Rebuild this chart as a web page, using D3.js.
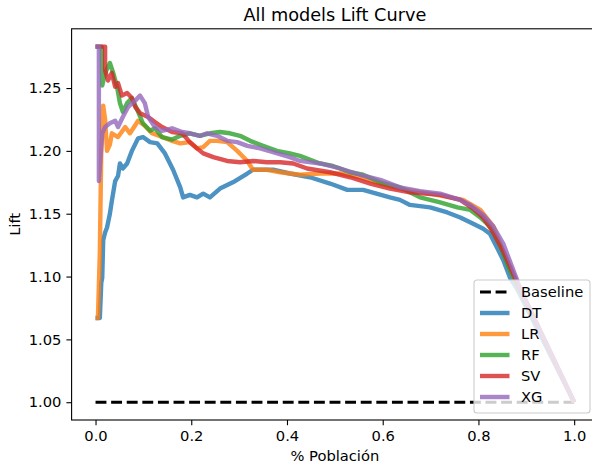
<!DOCTYPE html>
<html>
<head>
<meta charset="utf-8">
<script src="https://cdn.jsdelivr.net/npm/d3@7"></script>
<style>
  body { margin: 0; background: #fff; }
  text { font-family: "DejaVu Sans", sans-serif; fill: #000; }
</style>
</head>
<body>
<div id="chart"></div>
<script>
// lift curves, [fraction of population, lift]
const baseline = [[0, 1.0], [1, 1.0]]

const dt = [[0,1.067],[0.009,1.067],[0.012,1.095],[0.014,1.099],[0.016,1.129],[0.020,1.135],[0.024,1.139],
  [0.030,1.150],[0.034,1.160],[0.041,1.176],[0.047,1.180],[0.051,1.190],[0.057,1.186],[0.066,1.190],
  [0.076,1.200],[0.089,1.210],[0.099,1.211],[0.114,1.207],[0.129,1.206],[0.145,1.198],[0.162,1.185],
  [0.177,1.171],[0.183,1.163],[0.197,1.165],[0.212,1.163],[0.225,1.166],[0.239,1.163],[0.260,1.170],
  [0.287,1.175],[0.317,1.182],[0.329,1.185],[0.371,1.185],[0.406,1.182],[0.448,1.179],[0.490,1.174],
  [0.526,1.169],[0.559,1.169],[0.615,1.163],[0.636,1.161],[0.657,1.157],[0.699,1.155],[0.735,1.151],
  [0.762,1.147],[0.789,1.142],[0.810,1.138],[0.824,1.134],[0.839,1.123],[0.852,1.113],[0.866,1.099],
  [0.881,1.090],[1.0,1.0]]

const lr = [[0,1.067],[0.005,1.067],[0.009,1.120],[0.012,1.200],[0.016,1.236],[0.020,1.225],[0.024,1.200],
  [0.030,1.205],[0.034,1.214],[0.047,1.211],[0.062,1.219],[0.072,1.214],[0.089,1.224],[0.103,1.220],
  [0.118,1.214],[0.139,1.211],[0.160,1.208],[0.177,1.206],[0.197,1.207],[0.212,1.202],[0.225,1.203],
  [0.239,1.208],[0.254,1.208],[0.275,1.207],[0.296,1.200],[0.317,1.192],[0.329,1.185],[0.358,1.185],
  [0.386,1.183],[0.406,1.182],[0.427,1.181],[0.469,1.182],[0.511,1.182],[0.553,1.179],[0.595,1.174],
  [0.636,1.170],[0.699,1.166],[0.768,1.161],[0.804,1.153],[0.831,1.140],[0.852,1.120],[0.873,1.100],
  [0.887,1.090],[1.0,1.0]]

const rf = [[0,1.283],[0.013,1.283],[0.014,1.252],[0.020,1.262],[0.030,1.270],[0.037,1.262],[0.045,1.251],
  [0.051,1.238],[0.057,1.231],[0.066,1.238],[0.076,1.242],[0.089,1.231],[0.099,1.222],[0.114,1.216],
  [0.124,1.218],[0.139,1.211],[0.160,1.209],[0.177,1.212],[0.197,1.214],[0.218,1.212],[0.239,1.214],
  [0.260,1.215],[0.281,1.214],[0.302,1.212],[0.323,1.208],[0.350,1.204],[0.379,1.200],[0.406,1.198],
  [0.427,1.196],[0.469,1.190],[0.496,1.188],[0.532,1.183],[0.559,1.181],[0.595,1.175],[0.636,1.171],
  [0.678,1.163],[0.720,1.159],[0.756,1.155],[0.783,1.153],[0.804,1.147],[0.824,1.140],[0.845,1.125],
  [0.866,1.105],[0.887,1.090],[1.0,1.0]]

const sv = [[0,1.283],[0.020,1.283],[0.020,1.264],[0.026,1.256],[0.034,1.262],[0.041,1.251],[0.047,1.254],
  [0.055,1.244],[0.066,1.246],[0.076,1.242],[0.083,1.235],[0.093,1.230],[0.110,1.227],[0.124,1.223],
  [0.139,1.219],[0.160,1.215],[0.181,1.214],[0.197,1.207],[0.212,1.202],[0.225,1.198],[0.246,1.195],
  [0.275,1.192],[0.302,1.191],[0.329,1.192],[0.358,1.191],[0.386,1.191],[0.413,1.190],[0.442,1.186],
  [0.490,1.183],[0.532,1.179],[0.574,1.174],[0.615,1.170],[0.657,1.167],[0.720,1.165],[0.762,1.161],
  [0.789,1.154],[0.810,1.147],[0.831,1.135],[0.852,1.120],[0.873,1.102],[0.887,1.090],[1.0,1.0]]

const xg = [[0,1.283],[0.007,1.283],[0.007,1.176],[0.014,1.214],[0.020,1.219],[0.030,1.222],[0.041,1.224],
  [0.047,1.219],[0.057,1.227],[0.068,1.235],[0.083,1.240],[0.093,1.244],[0.103,1.238],[0.110,1.227],
  [0.124,1.219],[0.139,1.216],[0.160,1.218],[0.181,1.215],[0.197,1.214],[0.218,1.212],[0.233,1.214],
  [0.254,1.212],[0.275,1.208],[0.296,1.207],[0.317,1.204],[0.344,1.202],[0.371,1.199],[0.406,1.195],
  [0.427,1.192],[0.469,1.190],[0.511,1.186],[0.553,1.181],[0.595,1.177],[0.636,1.171],[0.678,1.168],
  [0.720,1.166],[0.762,1.161],[0.783,1.157],[0.797,1.153],[0.810,1.149],[0.831,1.140],[0.852,1.126],
  [0.873,1.105],[0.887,1.091],[1.0,1.0]]

const models = ["DT", "LR", "RF", "SV", "XG"]
const modelData = [dt, lr, rf, sv, xg]
const colors = ["#1f77b4", "#ff7f0e", "#2ca02c", "#d62728", "#9467bd"]
const xTicks = [0, 0.2, 0.4, 0.6, 0.8, 1.0]
const yTicks = [1.00, 1.05, 1.10, 1.15, 1.20, 1.25]

const W = 592, H = 467
const mLeft = 71.6, mRight = 598.1, mTop = 28.8, mBottom = 420

const x = d3.scaleLinear().domain([-0.05, 1.05]).range([mLeft, mRight])
const y = d3.scaleLinear().domain([0.98585, 1.29715]).range([mBottom, mTop])

const svg = d3.select("#chart").append("svg")
    .attr("width", W)
    .attr("height", H)

const line = d3.line().x(d => x(d[0])).y(d => y(d[1]))

svg.append("path")
    .datum(baseline)
    .attr("d", line)
    .attr("fill", "none")
    .attr("stroke", "#000")
    .attr("stroke-width", 2.9)
    .attr("stroke-dasharray", "10.9,4.7")

modelData.forEach((d, i) => {
  svg.append("path")
      .datum(d)
      .attr("d", line)
      .attr("fill", "none")
      .attr("stroke", colors[i])
      .attr("stroke-opacity", 0.8)
      .attr("stroke-width", 4.4)
      .attr("stroke-linejoin", "round")
})

// axes
const xAxis = svg.append("g")
    .attr("transform", `translate(0,${mBottom})`)
    .call(d3.axisBottom(x).tickValues(xTicks).tickFormat(d3.format(".1f")).tickSizeOuter(0).tickSize(5.2).tickPadding(5))
const yAxis = svg.append("g")
    .attr("transform", `translate(${mLeft},0)`)
    .call(d3.axisLeft(y).tickValues(yTicks).tickFormat(d3.format(".2f")).tickSizeOuter(0).tickSize(5.2).tickPadding(5))
for (const g of [xAxis, yAxis]) {
  g.select(".domain").remove()
  g.selectAll("line").attr("stroke", "#000").attr("stroke-width", 1.1)
  g.selectAll("text").style("font-size", "14.7px").attr("fill", "#000")
}

// spines
svg.append("rect")
    .attr("x", mLeft).attr("y", mTop)
    .attr("width", mRight - mLeft).attr("height", mBottom - mTop)
    .attr("fill", "none")
    .attr("stroke", "#000")
    .attr("stroke-width", 1.1)

svg.append("text")
    .attr("x", (mLeft + mRight) / 2).attr("y", 21)
    .attr("text-anchor", "middle")
    .style("font-size", "17.7px")
    .text("All models Lift Curve")

svg.append("text")
    .attr("x", (mLeft + mRight) / 2).attr("y", 461)
    .attr("text-anchor", "middle")
    .style("font-size", "14.7px")
    .text("% Población")

svg.append("text")
    .attr("transform", `translate(20,${(mTop + mBottom) / 2}) rotate(-90)`)
    .attr("text-anchor", "middle")
    .style("font-size", "14.7px")
    .text("Lift")

// legend
const legend = svg.append("g")
legend.append("rect")
    .attr("x", 474).attr("y", 280)
    .attr("width", 116).attr("height", 133)
    .attr("rx", 3)
    .attr("fill", "#fff").attr("fill-opacity", 0.8)
    .attr("stroke", "#ccc").attr("stroke-width", 1.1)

const entries = [{name: "Baseline", color: "#000", dash: "10.9,4.7", w: 2.9, op: 1}]
  .concat(models.map((m, i) => ({name: m, color: colors[i], dash: null, w: 4.4, op: 0.8})))

entries.forEach((e, i) => {
  const cy = 292 + i * 21
  legend.append("line")
      .attr("x1", 480).attr("x2", 509.5)
      .attr("y1", cy).attr("y2", cy)
      .attr("stroke", e.color)
      .attr("stroke-width", e.w)
      .attr("stroke-opacity", e.op)
      .attr("stroke-dasharray", e.dash)
  legend.append("text")
      .attr("x", 521).attr("y", cy + 5.3)
      .style("font-size", "14.7px")
      .text(e.name)
})
</script>
</body>
</html>
